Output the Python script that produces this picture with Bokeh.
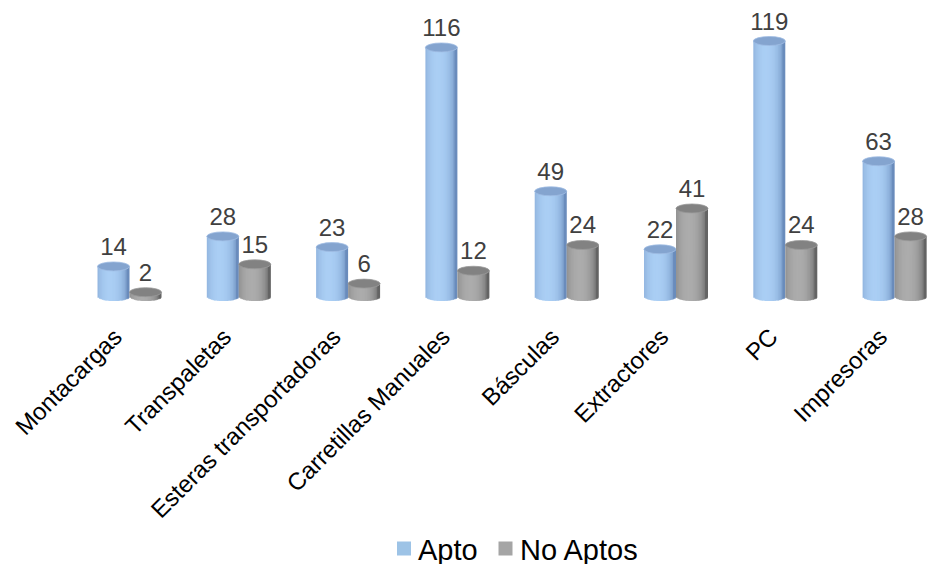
import numpy as np
from bokeh.plotting import figure
from bokeh.models import ColumnDataSource, Range1d
from bokeh.core.properties import value
from bokeh.embed import file_html
from bokeh.resources import INLINE

# ---- data ----
categories = ["Montacargas", "Transpaletas", "Esteras transportadoras",
              "Carretillas Manuales", "Básculas", "Extractores", "PC", "Impresoras"]
apto = [14, 28, 23, 116, 49, 22, 119, 63]
no_aptos = [2, 15, 6, 12, 24, 41, 24, 28]
series_names = ["Apto", "No Aptos"]
series_colors = ["#9dc3e6", "#a5a5a5"]

# ---- layout (pixels) ----
W, H = 928, 564
X0_PX = 129.0      # pixel of first category center
CAT_PX = 109.3     # pixels per category
BASE_PX = 296.0    # pixel row of baseline
PXU = 2.147        # pixels per value unit
BAR_PX = 32.0
CAP_PX = 9.0
FONT = "Liberation Sans"

p = figure(width=W, height=H, output_backend="svg", toolbar_location=None,
           min_border=0)
p.x_range = Range1d(-X0_PX / CAT_PX, (W - X0_PX) / CAT_PX)
p.y_range = Range1d(-(H - BASE_PX) / PXU, BASE_PX / PXU)
p.axis.visible = False
p.grid.visible = False
p.outline_line_color = None
p.background_fill_color = "white"
p.border_fill_color = "white"

bw = BAR_PX / CAT_PX
off = bw / 2.0


def px_x(px):
    return (px - X0_PX) / CAT_PX


def px_y(py):
    return (BASE_PX - py) / PXU


def mix(c1, c2, t):
    return "#%02x%02x%02x" % tuple(int(round(a + (b - a) * t)) for a, b in zip(c1, c2))


def strips(values, dx, light, dark, n=22):
    left, right, top, bottom, color = [], [], [], [], []
    ov = 1.0 / CAT_PX
    for i, v in enumerate(values):
        cx = i + dx
        for k in range(n):
            u0 = -1 + 2 * k / n
            u1 = -1 + 2 * (k + 1) / n
            um = (u0 + u1) / 2
            t = max(0.0, 1 - ((um + 0.2) / 1.05) ** 2) ** 0.55
            left.append(cx + u0 * bw / 2)
            right.append(cx + u1 * bw / 2 + (ov if k < n - 1 else 0))
            top.append(v)
            bottom.append(-(CAP_PX / 2) * np.sqrt(max(0.0, 1 - um ** 2)) / PXU)
            color.append(mix(dark, light, t))
    return ColumnDataSource(dict(left=left, right=right, top=top, bottom=bottom, color=color))


x_idx = np.arange(len(categories))

blue_light, blue_dark = (170, 206, 244), (106, 140, 188)
gray_light, gray_dark = (172, 172, 172), (100, 100, 100)

# Apto cylinders
p.quad(left="left", right="right", top="top", bottom="bottom", fill_color="color",
       line_color=None, source=strips(apto, -off, blue_light, blue_dark))
p.ellipse(x=x_idx - off, y=apto, width=bw, height=CAP_PX, height_units="screen",
          fill_color="#84a4cf", line_color="#9fbde3", line_width=0.8)

# No Aptos cylinders
p.quad(left="left", right="right", top="top", bottom="bottom", fill_color="color",
       line_color=None, source=strips(no_aptos, off, gray_light, gray_dark))
p.ellipse(x=x_idx + off, y=no_aptos, width=bw, height=CAP_PX, height_units="screen",
          fill_color="#828282", line_color="#9a9a9a", line_width=0.8)

# data labels
LAB_GAP = 20.0 / PXU
p.text(x=x_idx - off, y=[v + LAB_GAP for v in apto], text=[str(v) for v in apto],
       text_align="center", text_baseline="middle", text_font=value(FONT),
       text_font_size="24px", text_color="#404040")
p.text(x=x_idx + off, y=[v + LAB_GAP for v in no_aptos], text=[str(v) for v in no_aptos],
       text_align="center", text_baseline="middle", text_font=value(FONT),
       text_font_size="24px", text_color="#404040")

# category labels (rotated)
p.text(x=x_idx - 12.0 / CAT_PX, y=[-36.0 / PXU] * len(categories), text=categories,
       angle=np.pi / 4, text_align="right", text_baseline="middle",
       text_font=value(FONT), text_font_size="24px", text_color="#000000")

# legend (drawn manually)
leg_sq_px = [403.5, 505.0]
leg_tx_px = [417.5, 519.5]
LEG_Y = 548.0
p.rect(x=[px_x(v) for v in leg_sq_px], y=[px_y(LEG_Y)] * 2, width=14, height=14,
       width_units="screen", height_units="screen", fill_color=series_colors,
       line_color=None)
p.text(x=[px_x(v) for v in leg_tx_px], y=[px_y(LEG_Y + 1)] * 2, text=series_names,
       text_align="left", text_baseline="middle", text_font=value(FONT),
       text_font_size="29px", text_color="#000000")

open("out.html", "w").write(file_html(p, INLINE))
